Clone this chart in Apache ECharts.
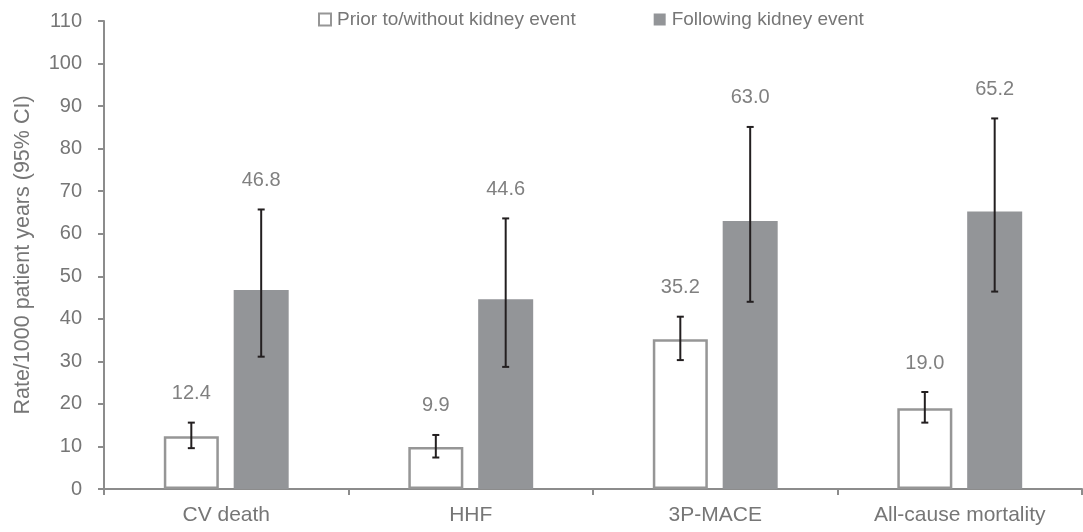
<!DOCTYPE html>
<html>
<head>
<meta charset="utf-8">
<script src="https://cdn.jsdelivr.net/npm/echarts@6/dist/echarts.min.js"></script>
<style>
html,body{margin:0;padding:0;background:#fff;}
#chart{width:1083px;height:532px;}
</style>
</head>
<body>
<div id="chart"></div>
<script>
const categories = ['CV death', 'HHF', '3P-MACE', 'All-cause mortality'];
const seriesNames = ['Prior to/without kidney event', 'Following kidney event'];
const priorRates = [12.4, 9.9, 35.2, 19.0];
const priorLower = [9.6, 7.4, 30.3, 15.6];
const priorUpper = [15.6, 12.7, 40.5, 22.8];
const followingRates = [46.8, 44.6, 63.0, 65.2];
const followingLower = [31.1, 28.7, 44.0, 46.4];
const followingUpper = [65.7, 63.6, 85.1, 87.1];
const yMin = 0, yMax = 110, yStep = 10;

const FONT = '"Liberation Sans", Arial, Helvetica, sans-serif';
const BAR_W = 0.225, BAR_GAP = 0.27;
const halfOffset = (BAR_W + BAR_W * BAR_GAP) / 2;

function errData(lo, hi, val) {
  return categories.map((c, i) => [i, lo[i], hi[i], val[i]]);
}
function makeRender(side) {
  return function (params, api) {
    const idx = api.value(0), lo = api.value(1), hi = api.value(2), v = api.value(3);
    const band = api.size([1, 0])[0];
    const pHi = api.coord([idx, hi]);
    const pLo = api.coord([idx, lo]);
    const x = pHi[0] + side * band * halfOffset;
    const cap = 3.5;
    const st = { stroke: '#231f20', lineWidth: 2 };
    return {
      type: 'group',
      children: [
        { type: 'line', shape: { x1: x, y1: pHi[1], x2: x, y2: pLo[1] }, style: st },
        { type: 'line', shape: { x1: x - cap, y1: pHi[1], x2: x + cap, y2: pHi[1] }, style: st },
        { type: 'line', shape: { x1: x - cap, y1: pLo[1], x2: x + cap, y2: pLo[1] }, style: st },
        { type: 'text', x: x, y: pHi[1] - 29,
          style: { text: v.toFixed(1), fill: '#808080', fontSize: 20, fontFamily: FONT, align: 'center', verticalAlign: 'middle' } }
      ]
    };
  };
}

const chart = echarts.init(document.getElementById('chart'), null, { renderer: 'canvas' });
chart.setOption({
  backgroundColor: '#ffffff',
  animation: false,
  textStyle: { fontFamily: FONT },
  grid: { left: 104, right: 1, top: 21, bottom: 43, containLabel: false },
  legend: {
    data: seriesNames,
    top: 5,
    left: 313,
    icon: 'rect',
    itemWidth: 12,
    itemHeight: 12,
    itemGap: 78,
    textStyle: { fontSize: 19, color: '#767676', fontFamily: FONT, padding: [0, 0, 0, 1] },
    selectedMode: false
  },
  xAxis: {
    type: 'category',
    data: categories,
    axisLine: { lineStyle: { color: '#8c8c8c', width: 2 } },
    axisTick: { show: true, length: 6, lineStyle: { color: '#8c8c8c', width: 2 } },
    axisLabel: { fontSize: 21, color: '#767676', margin: 16, fontFamily: FONT }
  },
  yAxis: {
    type: 'value',
    min: yMin, max: yMax, interval: yStep,
    name: 'Rate/1000 patient years (95% CI)',
    nameLocation: 'middle',
    nameGap: 70,
    nameTextStyle: { fontSize: 21.5, color: '#767676', fontFamily: FONT },
    axisLine: { show: true, lineStyle: { color: '#8c8c8c', width: 2 } },
    axisTick: { show: true, length: 6, lineStyle: { color: '#8c8c8c', width: 2 } },
    axisLabel: { fontSize: 20, color: '#767676', margin: 22, fontFamily: FONT },
    splitLine: { show: false }
  },
  series: [
    {
      name: seriesNames[0], type: 'bar', data: priorRates,
      barWidth: (BAR_W * 100) + '%', barGap: (BAR_GAP * 100) + '%',
      itemStyle: { color: '#ffffff', borderColor: '#969696', borderWidth: 2.5 }
    },
    {
      name: seriesNames[1], type: 'bar', data: followingRates,
      barWidth: (BAR_W * 100) + '%', barGap: (BAR_GAP * 100) + '%',
      itemStyle: { color: '#939598' }
    },
    {
      type: 'custom', name: 'err0', renderItem: makeRender(-1),
      data: errData(priorLower, priorUpper, priorRates),
      encode: { x: 0, y: [1, 2] }, z: 5
    },
    {
      type: 'custom', name: 'err1', renderItem: makeRender(1),
      data: errData(followingLower, followingUpper, followingRates),
      encode: { x: 0, y: [1, 2] }, z: 5
    }
  ]
});
</script>
</body>
</html>
